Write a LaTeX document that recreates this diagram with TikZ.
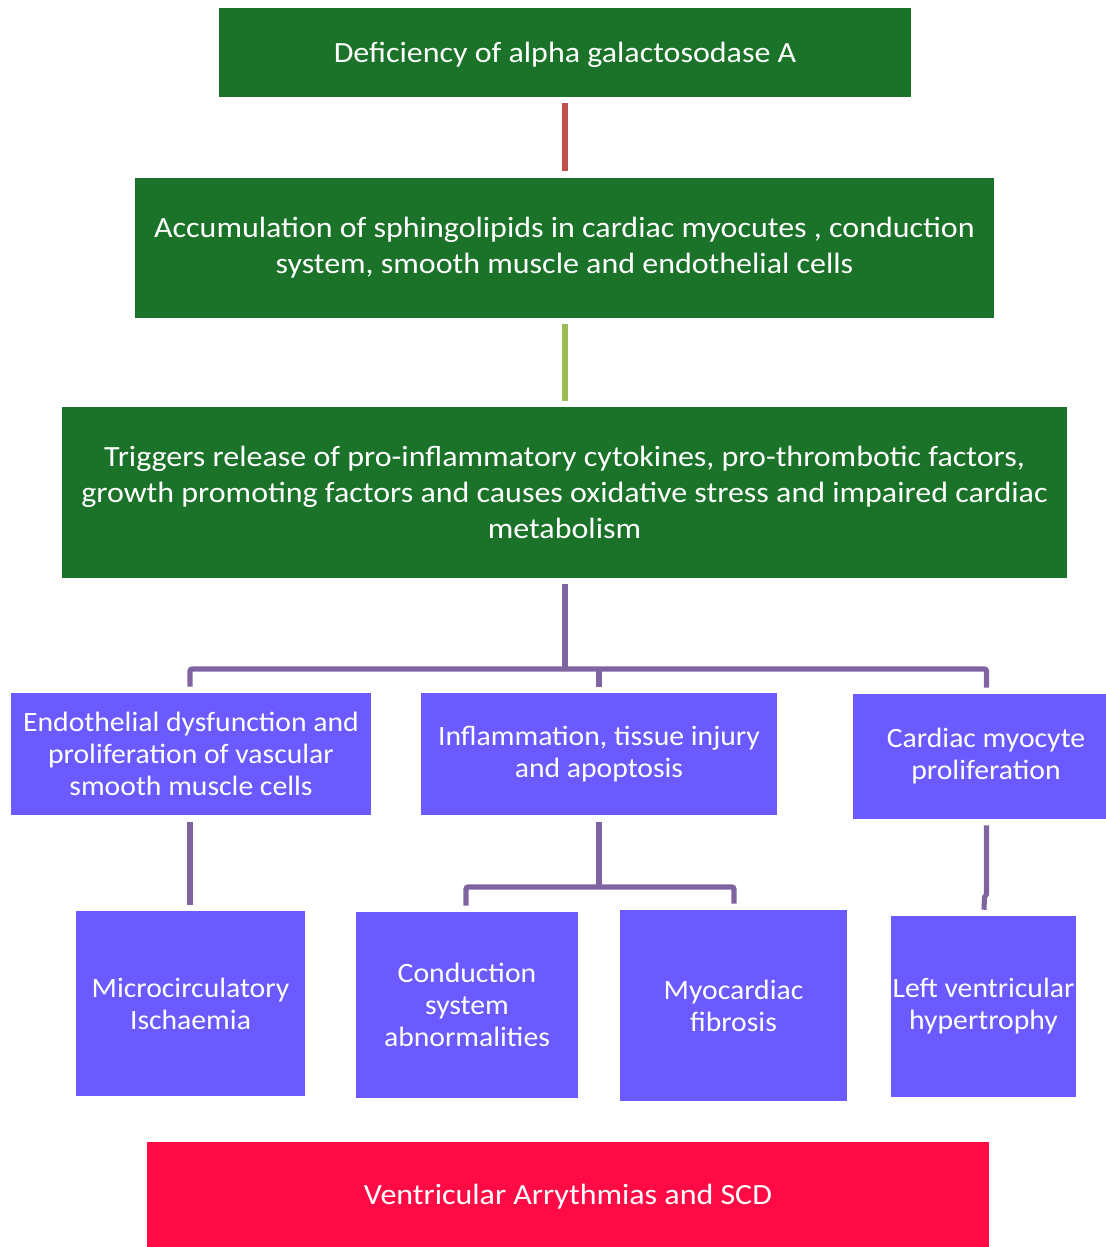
\documentclass[tikz,border=0pt]{standalone}
\usepackage{fontspec}
\setmainfont[FakeStretch=1.09]{Carlito}
\newfontfamily\bluefont[FakeStretch=1.06]{Carlito}
\usetikzlibrary{calc}
\definecolor{dgreen}{RGB}{27,114,41}
\definecolor{vblue}{RGB}{106,90,255}
\definecolor{vred}{RGB}{255,10,68}
\definecolor{cpurple}{RGB}{128,100,162}
\definecolor{cred}{RGB}{192,80,77}
\definecolor{cgreen}{RGB}{155,187,89}
\tikzset{
  sz/.style 2 args={minimum width=#1*0.75pt, minimum height=#2*0.75pt},
  gbox/.style={fill=dgreen, text=white, inner sep=0pt, align=center, font=\fontsize{22}{27}\selectfont},
  bbox/.style={fill=vblue, text=white, inner sep=0pt, align=center, font=\bluefont\fontsize{21}{24}\selectfont},
  rbox/.style={fill=vred, text=white, inner sep=0pt, align=center, font=\fontsize{22}{27}\selectfont},
  pl/.style={draw=cpurple, line width=3.8pt, rounded corners=1.5pt},
}
\begin{document}
\begin{tikzpicture}[x=0.75pt,y=-0.75pt]
\fill[white] (0,0) rectangle (1106,1247);
\useasboundingbox (0,0) rectangle (1106,1247);
\node[gbox, sz={692}{89}, text depth=0pt] (b1) at (565,52.5) {Deficiency of alpha galactosodase A};
\node[gbox, sz={859}{140}] (b2) at (564.5,248) {Accumulation of sphingolipids in cardiac myocutes , conduction\\system, smooth muscle and endothelial cells};
\node[gbox, sz={1005}{171}] (b3) at (564.5,492.5) {Triggers release of pro-inflammatory cytokines, pro-thrombotic factors,\\growth promoting factors and causes oxidative stress and impaired cardiac\\metabolism};
\node[bbox, sz={360}{122}] (b4) at (191,754) {Endothelial dysfunction and\\proliferation of vascular\\smooth muscle cells};
\node[bbox, sz={356}{122}] (b5) at (599,754) {Inflammation, tissue injury\\and apoptosis};
\node[bbox, sz={266}{125}] (b6) at (986,756.5) {Cardiac myocyte\\proliferation};
\node[bbox, sz={229}{185}] (b7) at (190.5,1003.5) {Microcirculatory\\Ischaemia};
\node[bbox, sz={222}{186}] (b8) at (467,1005) {Conduction\\system\\abnormalities};
\node[bbox, sz={227}{191}] (b9) at (733.5,1005.5) {Myocardiac\\fibrosis};
\node[bbox, sz={185}{181}] (b10) at (983.5,1006.5) {Left ventricular\\hypertrophy};
\node[rbox, sz={842}{105}, text depth=0pt] (b11) at (568,1194.5) {Ventricular Arrythmias and SCD};
\coordinate (j1) at (565,669);
\coordinate (j2) at (599,887);
\draw[draw=cred, line width=3.8pt] ($(b1.south)+(0,6)$) -- ($(b2.north)+(0.5,-7)$);
\draw[draw=cgreen, line width=3.8pt] ($(b2.south)+(0.5,6)$) -- ($(b3.north)+(0.5,-6)$);
\draw[pl] ($(b3.south)+(0.5,6)$) -- (j1);
\draw[pl] ($(b4.north)+(-1,-6)$) |- (j1) -| ($(b6.north)+(0.5,-6)$);
\draw[pl] (j1 -| b5.north) -- ($(b5.north)+(0,-6)$);
\draw[pl] ($(b4.south)+(-1,7)$) -- ($(b7.north)+(-0.5,-6)$);
\draw[pl] ($(b5.south)+(0,7)$) -- (j2);
\draw[pl] (j2) -| ($(b8.north)+(-1,-6)$);
\draw[pl] (j2) -| ($(b9.north)+(0.5,-6)$);
\draw[pl, rounded corners=0pt] ($(b6.south)+(0.5,6)$) -- ++(0,69) -- ++(-2,3) -- ($(b10.north)+(0.5,-6)$);
\end{tikzpicture}
\end{document}
